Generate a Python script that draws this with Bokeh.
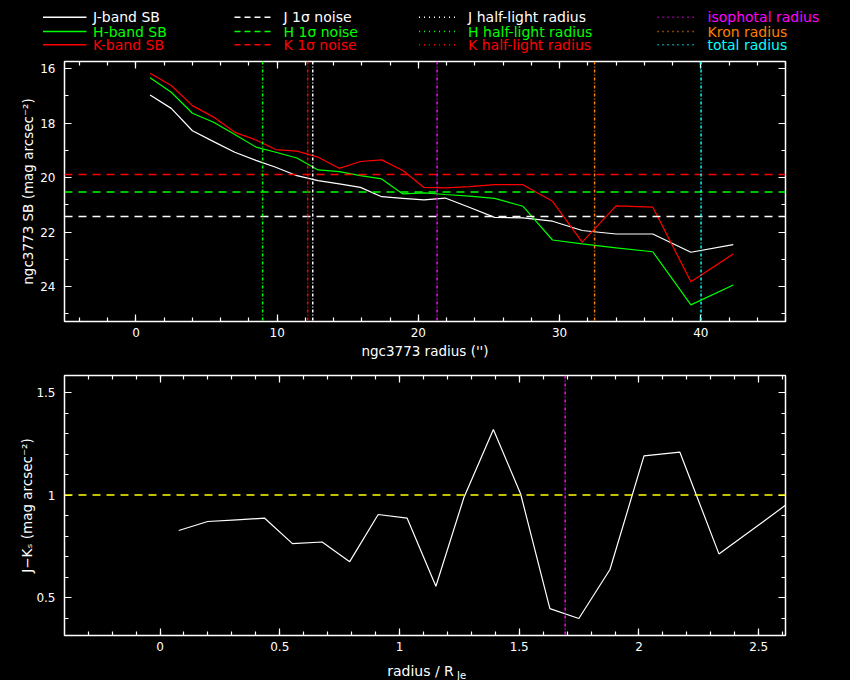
from bokeh.plotting import figure
from bokeh.models import Range1d, LinearAxis, CustomJSTickFormatter, SingleIntervalTicker, Span
from bokeh.embed import file_html
from bokeh.resources import INLINE
from bokeh.core.properties import value

# ---------------- data ----------------
radius = [1.0, 2.5, 4.0, 5.5, 7.0, 8.5, 9.9, 11.4, 12.9, 14.4, 15.9, 17.4, 18.9, 20.4,
          21.9, 23.6, 25.4, 27.4, 29.5, 31.6, 34.0, 36.6, 39.3, 42.3]
sb_J = [16.97, 17.46, 18.28, 18.68, 19.07, 19.37, 19.62, 19.93, 20.11, 20.23, 20.36, 20.70,
        20.76, 20.82, 20.75, 21.09, 21.46, 21.48, 21.60, 21.94, 22.07, 22.07, 22.74, 22.46]
sb_H = [16.34, 16.87, 17.64, 17.97, 18.42, 18.88, 19.07, 19.28, 19.72, 19.78, 19.93, 20.05,
        20.60, 20.56, 20.62, 20.68, 20.76, 21.05, 22.29, 22.43, 22.58, 22.72, 24.67, 23.94]
sb_K = [16.17, 16.62, 17.36, 17.78, 18.34, 18.62, 18.97, 19.03, 19.25, 19.66, 19.41, 19.35,
        19.74, 20.36, 20.38, 20.33, 20.26, 20.26, 20.87, 22.37, 21.04, 21.08, 23.82, 22.80]
noise_J, noise_H, noise_K = 21.43, 20.53, 19.89
rhalf_J, rhalf_H, rhalf_K = 12.52, 8.97, 12.16
r_iso, r_kron, r_tot = 21.33, 32.48, 40.02

r_norm = [0.078, 0.199, 0.32, 0.437, 0.553, 0.677, 0.792, 0.911, 1.032, 1.152, 1.269,
          1.392, 1.506, 1.628, 1.749, 1.879, 2.021, 2.171, 2.334, 2.52, 2.71]
j_k = [0.827, 0.871, 0.879, 0.887, 0.763, 0.771, 0.675, 0.905, 0.887, 0.555, 0.988,
       1.320, 1.005, 0.446, 0.398, 0.637, 1.191, 1.209, 0.713, 0.871, 1.035]
jk_ref = 1.0
r_iso_norm = 1.692

legend_labels = [["J-band SB", "H-band SB", "K-band SB"],
                 ["J 1σ noise", "H 1σ noise", "K 1σ noise"],
                 ["J half-light radius", "H half-light radius", "K half-light radius"],
                 ["isophotal radius", "Kron radius", "total radius"]]

WHITE, GREEN, RED = "#ffffff", "#00ff00", "#ff0000"
MAGENTA, ORANGE, CYAN, YELLOW = "#ff00ff", "#ff8000", "#00ffff", "#ffff00"
legend_colors = [[WHITE, GREEN, RED], [WHITE, GREEN, RED], [WHITE, GREEN, RED],
                 [MAGENTA, ORANGE, CYAN]]

FONT = "DejaVu Sans"
W = 850
VDASH = "3 2 1 2"
HDASH = "8 6"


def style_axis(ax, label_size="13.5px", standoff=6, label_standoff=3):
    ax.axis_line_color = None
    ax.major_tick_line_color = "white"
    ax.minor_tick_line_color = "white"
    ax.major_tick_line_width = 1.2
    ax.minor_tick_line_width = 1.2
    ax.major_tick_in = 7
    ax.major_tick_out = 0
    ax.minor_tick_in = 4
    ax.minor_tick_out = 0
    ax.major_label_text_color = "white"
    ax.major_label_text_font = FONT
    ax.major_label_text_font_size = "12px"
    ax.major_label_standoff = standoff
    ax.axis_label_text_color = "white"
    ax.axis_label_text_font = FONT
    ax.axis_label_text_font_size = label_size
    ax.axis_label_text_font_style = "normal"
    ax.axis_label_standoff = label_standoff


def add_mirror_axes(p, xticker, yticker):
    for side, tk in (("right", yticker), ("above", xticker)):
        ax = LinearAxis(ticker=tk, formatter=CustomJSTickFormatter(code="return ''"))
        style_axis(ax)
        ax.major_label_text_font_size = "0px"
        ax.major_label_standoff = 0
        ax.axis_label = None
        p.add_layout(ax, side)


def make_fig(h, xr, yr, bt, bb):
    p = figure(width=W, height=h, x_range=xr, y_range=yr, output_backend="svg",
               toolbar_location=None, min_border_left=64, min_border_right=65,
               min_border_top=bt, min_border_bottom=bb,
               background_fill_color="black", border_fill_color="black",
               outline_line_color="white", outline_line_width=1.5)
    p.grid.visible = False
    return p


def make_strip(h):
    s = figure(width=W, height=h, x_range=Range1d(0, W), y_range=Range1d(h, 0),
               output_backend="svg", toolbar_location=None, min_border=0,
               background_fill_color="black", border_fill_color="black",
               outline_line_color=None)
    s.axis.visible = False
    s.grid.visible = False
    return s


# ---------------- legend strip (page pixel coordinates) ----------------
leg = make_strip(53)
rows_y = [16.7, 31.0, 44.3]
line_x0 = [42.5, 234, 418.5, 657]
line_x1 = [86, 270, 458, 696]
text_x = [92.6, 283, 467.6, 707]
dashes = ["solid", "6 4", "1 4", "1 4"]
for c in range(4):
    leg.segment(x0=[line_x0[c]] * 3, x1=[line_x1[c]] * 3, y0=rows_y, y1=rows_y,
                line_color=legend_colors[c], line_width=1.5, line_dash=dashes[c])
    leg.text(x=[text_x[c]] * 3, y=rows_y, text=legend_labels[c],
             text_color=legend_colors[c], text_font=value(FONT),
             text_font_size="14px", text_baseline="middle", text_align="left")

# ---------------- top panel ----------------
p1 = make_fig(309, Range1d(-5.06, 46.0), Range1d(25.28, 15.74), 8, 41)
xt1 = SingleIntervalTicker(interval=10, num_minor_ticks=5)
yt1 = SingleIntervalTicker(interval=2, num_minor_ticks=2)
p1.xaxis[0].ticker = xt1
p1.yaxis[0].ticker = yt1
style_axis(p1.xaxis[0], standoff=6, label_standoff=3)
style_axis(p1.yaxis[0], standoff=9, label_standoff=1)
p1.xaxis[0].axis_label = "ngc3773 radius ('')"
p1.yaxis[0].axis_label = "ngc3773 SB (mag arcsec⁻²)"
add_mirror_axes(p1, xt1, yt1)

for lvl, col in ((noise_K, RED), (noise_H, GREEN), (noise_J, WHITE)):
    p1.add_layout(Span(location=lvl, dimension="width", line_color=col,
                       line_width=1.5, line_dash=HDASH))
for loc, col in ((rhalf_H, GREEN), (rhalf_K, RED), (rhalf_J, WHITE),
                 (r_iso, MAGENTA), (r_kron, ORANGE), (r_tot, CYAN)):
    p1.add_layout(Span(location=loc, dimension="height", line_color=col,
                       line_width=1.5, line_dash=VDASH))
p1.line(radius, sb_J, line_color=WHITE, line_width=1.2)
p1.line(radius, sb_H, line_color=GREEN, line_width=1.2)
p1.line(radius, sb_K, line_color=RED, line_width=1.2)

# ---------------- bottom panel ----------------
p2 = make_fig(294, Range1d(-0.399, 2.612), Range1d(0.315, 1.583), 13, 21)
xt2 = SingleIntervalTicker(interval=0.5, num_minor_ticks=5)
yt2 = SingleIntervalTicker(interval=0.5, num_minor_ticks=5)
p2.xaxis[0].ticker = xt2
p2.yaxis[0].ticker = yt2
fmt = "return String(Math.round(tick * 10) / 10)"
p2.xaxis[0].formatter = CustomJSTickFormatter(code=fmt)
p2.yaxis[0].formatter = CustomJSTickFormatter(code=fmt)
style_axis(p2.xaxis[0], standoff=6)
style_axis(p2.yaxis[0], standoff=9, label_standoff=-2)
p2.xaxis[0].axis_label = None
p2.yaxis[0].axis_label = "J−Kₛ (mag arcsec⁻²)"
add_mirror_axes(p2, xt2, yt2)

p2.add_layout(Span(location=jk_ref, dimension="width", line_color=YELLOW,
                   line_width=1.5, line_dash=HDASH))
p2.add_layout(Span(location=r_iso_norm, dimension="height", line_color=MAGENTA,
                   line_width=1.5, line_dash=VDASH))
p2.line(r_norm, j_k, line_color=WHITE, line_width=1.2)

# ---------------- x-axis title strip for the bottom panel ----------------
xlab = make_strip(24)
xlab.text(x=[386.7], y=[14.7], text=["radius / R"], text_color="white",
          text_font=value(FONT), text_font_size="14px",
          text_baseline="alphabetic", text_align="left")
xlab.text(x=[456.5], y=[19.0], text=["Je"], text_color="white",
          text_font=value(FONT), text_font_size="10px",
          text_baseline="alphabetic", text_align="left")

# separate roots: no frame alignment between the strips and the panels
open("out.html", "w").write(file_html([leg, p1, p2, xlab], INLINE).replace(
    "</head>", "<style>html,body{background:#000;overflow:hidden}</style></head>", 1))
